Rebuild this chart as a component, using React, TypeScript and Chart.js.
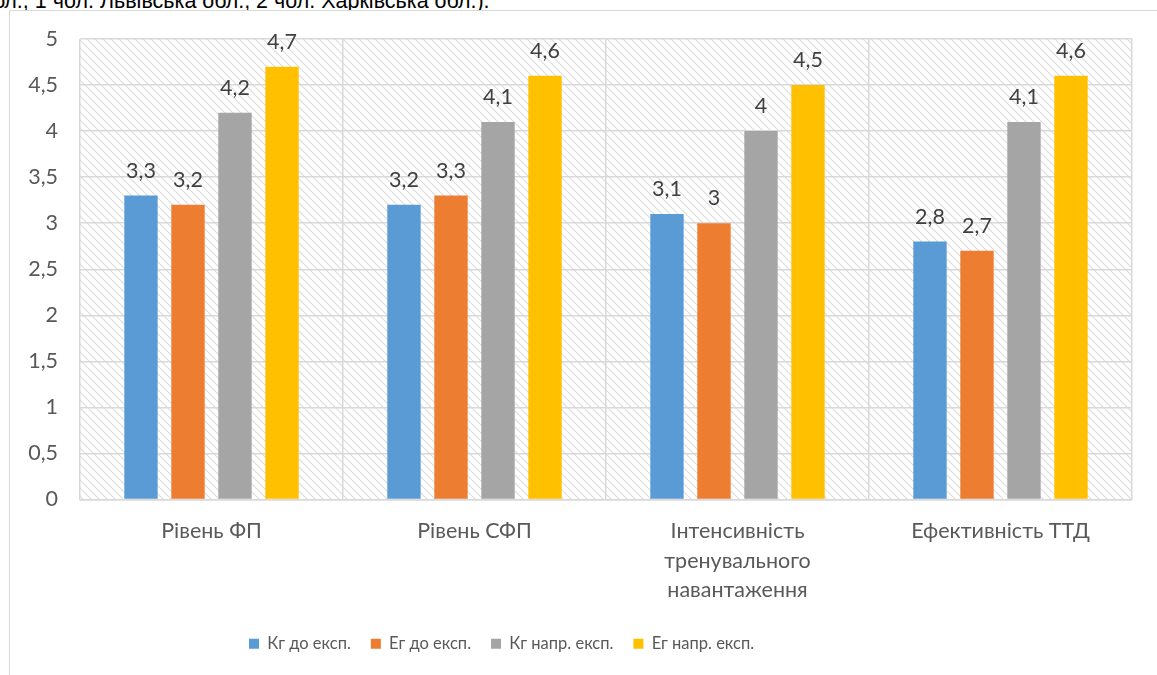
import React, { useEffect, useRef } from "react";
import { Chart, registerables } from "chart.js";

Chart.register(...registerables);

const categories: (string | string[])[] = [
  "Рівень ФП",
  "Рівень СФП",
  ["Інтенсивність", "тренувального", "навантаження"],
  "Ефективність ТТД",
];
const seriesNames = ["Кг до експ.", "Ег до експ.", "Кг напр. експ.", "Ег напр. експ."];
const kgBefore = [3.3, 3.2, 3.1, 2.8];
const egBefore = [3.2, 3.3, 3.0, 2.7];
const kgAfter = [4.2, 4.1, 4.0, 4.1];
const egAfter = [4.7, 4.6, 4.5, 4.6];
const seriesColors = ["#5B9BD5", "#ED7D31", "#A5A5A5", "#FFC000"];
const yMin = 0;
const yMax = 5;
const yStep = 0.5;

const FONT = "Lato, 'Noto Sans', sans-serif";
const LEGEND_START_X = 249;

const fmt = (v: number) => String(v).replace(".", ",");

const hatchPlugin = {
  id: "hatch",
  beforeDraw(chart: any) {
    const { ctx, chartArea } = chart;
    if (!chartArea) return;
    const size = 8;
    const off = document.createElement("canvas");
    off.width = size;
    off.height = size;
    const o = off.getContext("2d")!;
    o.strokeStyle = "#dcdcdc";
    o.lineWidth = 1.1;
    o.beginPath();
    o.moveTo(-1, -1);
    o.lineTo(size + 1, size + 1);
    o.moveTo(-1, size - 1);
    o.lineTo(1, size + 1);
    o.moveTo(size - 1, -1);
    o.lineTo(size + 1, 1);
    o.stroke();
    const pat = ctx.createPattern(off, "repeat");
    ctx.save();
    ctx.fillStyle = pat;
    ctx.fillRect(chartArea.left, chartArea.top, chartArea.right - chartArea.left, chartArea.bottom - chartArea.top);
    ctx.restore();
  },
};

const legendShiftPlugin = {
  id: "legendShift",
  afterLayout(chart: any) {
    const lg = chart.legend;
    if (!lg || !lg.lineWidths) return;
    const pad = lg.options.labels.padding;
    const natural = (lg.left + pad + lg.right - lg.lineWidths[0]) / 2;
    const delta = LEGEND_START_X - natural;
    lg.left += delta;
    lg.right += delta;
  },
};

const valueLabelPlugin = {
  id: "valueLabels",
  afterDatasetsDraw(chart: any) {
    const { ctx } = chart;
    ctx.save();
    ctx.font = `21.5px ${FONT}`;
    ctx.fillStyle = "#404040";
    ctx.textAlign = "center";
    ctx.textBaseline = "alphabetic";
    chart.data.datasets.forEach((ds: any, i: number) => {
      const meta = chart.getDatasetMeta(i);
      meta.data.forEach((el: any, j: number) => {
        ctx.fillText(fmt(ds.data[j]), el.x, el.y - 18);
      });
    });
    ctx.restore();
  },
};

export default function App() {
  const ref = useRef<HTMLCanvasElement>(null);

  useEffect(() => {
    document.body.style.margin = "0";
    const seriesData = [kgBefore, egBefore, kgAfter, egAfter];
    const chart = new Chart(ref.current!, {
      type: "bar",
      data: {
        labels: categories,
        datasets: seriesData.map((d, i) => ({
          label: seriesNames[i],
          data: d,
          backgroundColor: seriesColors[i],
          borderWidth: 0,
          categoryPercentage: 0.715,
          barPercentage: 0.71,
        })),
      },
      options: {
        animation: false,
        responsive: false,
        devicePixelRatio: 1,
        layout: { padding: { left: 0, top: 39, right: 25, bottom: 13 } },
        scales: {
          x: {
            grid: { offset: true, color: "#d9d9d9", lineWidth: 1.5, drawTicks: false },
            border: { display: true, color: "#d9d9d9", width: 1.5 },
            ticks: {
              color: "#595959",
              font: { family: FONT, size: 21.5, lineHeight: 1.372 },
              padding: 17,
              maxRotation: 0,
              autoSkip: false,
            },
            afterFit: (s: any) => {
              s.height = 116;
            },
          },
          y: {
            min: yMin,
            max: yMax,
            grid: { color: "#d9d9d9", lineWidth: 1.5, drawTicks: false },
            border: { display: false },
            ticks: {
              stepSize: yStep,
              color: "#595959",
              font: { family: FONT, size: 21.5 },
              padding: 22,
              callback: (v: any) => fmt(Number(v)),
            },
            afterFit: (s: any) => {
              s.width = 80;
            },
          },
        },
        plugins: {
          legend: {
            position: "bottom",
            labels: {
              color: "#595959",
              font: { family: FONT, size: 16.5 },
              boxWidth: 10,
              boxHeight: 10,
              padding: 20,
            },
          },
          tooltip: { enabled: false },
        },
      },
      plugins: [hatchPlugin, legendShiftPlugin, valueLabelPlugin],
    });
    return () => chart.destroy();
  }, []);

  return (
    <div style={{ position: "fixed", left: 0, top: 0, width: 1157, height: 675, overflow: "hidden", background: "#fff" }}>
      <div
        style={{
          position: "absolute",
          left: -19,
          top: -9,
          font: "21.5px 'Liberation Sans', Arial, sans-serif",
          lineHeight: "21.5px",
          color: "#000",
          whiteSpace: "nowrap",
        }}
      >
        обл., 1 чол. Львівська обл., 2 чол. Харківська обл.).
      </div>
      <div
        style={{
          position: "absolute",
          left: 9,
          top: 10,
          width: 1300,
          height: 800,
          border: "1.5px solid #d9d9d9",
          background: "#fff",
        }}
      />
      <canvas ref={ref} width={1157} height={675} style={{ position: "absolute", left: 0, top: 0, width: 1157, height: 675 }} />
    </div>
  );
}
